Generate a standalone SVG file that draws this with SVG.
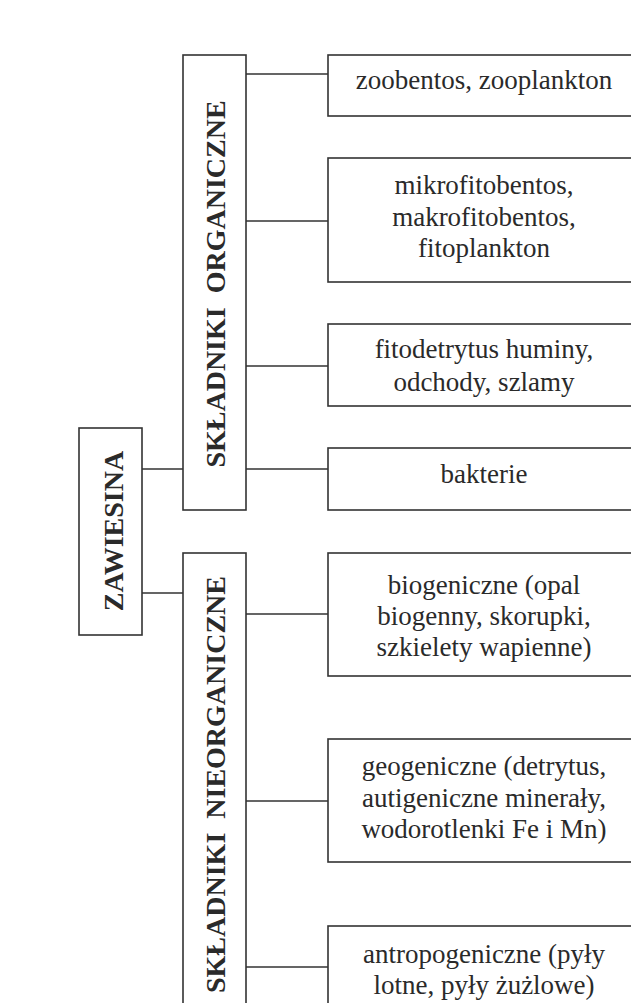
<svg xmlns="http://www.w3.org/2000/svg" width="631" height="1003" viewBox="0 0 631 1003">
<style>
.box{fill:#fff;stroke:#333;stroke-width:1.6}
.ln{stroke:#333;stroke-width:1.4;fill:none}
.t{font-family:"Liberation Serif","Times New Roman",serif;font-size:27px;fill:#2a2a2a;text-anchor:middle}
.v{font-family:"Liberation Serif","Times New Roman",serif;font-size:28px;font-weight:bold;fill:#2a2a2a;text-anchor:middle}
</style>
<rect width="631" height="1003" fill="#fff"/>
<g id="connectors">
<path class="ln" d="M142 469H183M142 593H183"/>
<path class="ln" d="M246 74H328M246 221H328M246 366H328M246 469H328"/>
<path class="ln" d="M246 614H328M246 801H328M246 967H328"/>
</g>
<g id="zawiesina">
<rect class="box" x="79" y="428" width="63" height="207"/>
<text class="v" transform="translate(123,531) rotate(-90)">ZAWIESINA</text>
</g>
<g id="organiczne">
<rect class="box" x="183" y="55" width="63" height="455"/>
<text class="v" transform="translate(225,284) rotate(-90)" xml:space="preserve">SKŁADNIKI  ORGANICZNE</text>
</g>
<g id="nieorganiczne">
<rect class="box" x="183" y="553" width="63" height="470"/>
<text class="v" transform="translate(225,784.5) rotate(-90)" xml:space="preserve">SKŁADNIKI  NIEORGANICZNE</text>
</g>
<g id="zoobentos">
<rect class="box" x="328" y="55" width="320" height="61"/>
<text class="t" x="484" y="89">zoobentos, zooplankton</text>
</g>
<g id="mikrofitobentos">
<rect class="box" x="328" y="158" width="320" height="124"/>
<text class="t" x="484" y="194">mikrofitobentos,</text>
<text class="t" x="484" y="226">makrofitobentos,</text>
<text class="t" x="484" y="257">fitoplankton</text>
</g>
<g id="fitodetrytus">
<rect class="box" x="328" y="324" width="320" height="82"/>
<text class="t" x="484" y="358">fitodetrytus huminy,</text>
<text class="t" x="484" y="391">odchody, szlamy</text>
</g>
<g id="bakterie">
<rect class="box" x="328" y="448" width="320" height="62"/>
<text class="t" x="484" y="483">bakterie</text>
</g>
<g id="biogeniczne">
<rect class="box" x="328" y="553" width="320" height="123"/>
<text class="t" x="484" y="594">biogeniczne (opal</text>
<text class="t" x="484" y="625">biogenny, skorupki,</text>
<text class="t" x="484" y="656">szkielety wapienne)</text>
</g>
<g id="geogeniczne">
<rect class="box" x="328" y="739" width="320" height="123"/>
<text class="t" x="484" y="775">geogeniczne (detrytus,</text>
<text class="t" x="484" y="807">autigeniczne minerały,</text>
<text class="t" x="484" y="838">wodorotlenki Fe i Mn)</text>
</g>
<g id="antropogeniczne">
<rect class="box" x="328" y="926" width="320" height="100"/>
<text class="t" x="484" y="963">antropogeniczne (pyły</text>
<text class="t" x="484" y="994">lotne, pyły żużlowe)</text>
</g>
</svg>
